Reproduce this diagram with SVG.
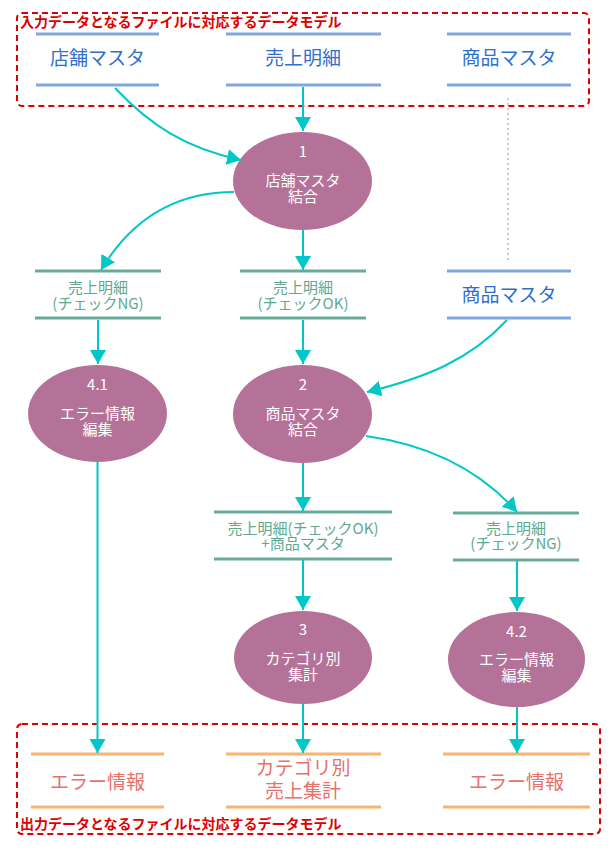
<svg xmlns="http://www.w3.org/2000/svg" width="612" height="850" viewBox="0 0 612 850">
  <style>
    text { font-family: "Noto Sans CJK JP", "Noto Sans", sans-serif; text-anchor: middle; }
    .frame { fill: none; stroke: #dd0000; stroke-width: 2; stroke-dasharray: 6 4; }
    .frame-label { fill: #dd0000; font-size: 14px; font-weight: bold; text-anchor: start; }
    .in-line { stroke: #80a8e0; stroke-width: 3; }
    .in-text { fill: #2f6fcc; font-size: 19px; }
    .mid-line { stroke: #69ab9b; stroke-width: 3; }
    .mid-text { fill: #5ea890; font-size: 15px; }
    .out-line { stroke: #f8b470; stroke-width: 3; }
    .out-text { fill: #e8706a; font-size: 19px; }
    .proc { fill: #b57299; }
    .proc-text { fill: #ffffff; font-size: 15px; }
    .flow { fill: none; stroke: #00c8c8; stroke-width: 2; marker-end: url(#arrow); }
    .ref { stroke: #8899bb; stroke-width: 1; stroke-dasharray: 2 3; }
  </style>
  <defs>
    <marker id="arrow" markerUnits="userSpaceOnUse" markerWidth="14" markerHeight="16" refX="14" refY="8" orient="auto">
      <path d="M0,0 L14,8 L0,16 Z" fill="#00c8c8"/>
    </marker>
  </defs>

  <rect width="612" height="850" fill="#ffffff"/>

  <!-- input / output frames -->
  <g id="input-frame">
    <rect class="frame" x="17" y="13" width="572" height="93" rx="5"/>
    <text class="frame-label" x="20" y="27">入力データとなるファイルに対応するデータモデル</text>
  </g>
  <g id="output-frame">
    <rect class="frame" x="17" y="724" width="583" height="110" rx="5"/>
    <text class="frame-label" x="20" y="829">出力データとなるファイルに対応するデータモデル</text>
  </g>

  <!-- input stores -->
  <g id="store-tenpo">
    <line class="in-line" x1="36" y1="34" x2="159" y2="34"/>
    <line class="in-line" x1="36" y1="85" x2="159" y2="85"/>
    <text class="in-text" x="97.5" y="65">店舗マスタ</text>
  </g>
  <g id="store-uriage">
    <line class="in-line" x1="226" y1="34" x2="381" y2="34"/>
    <line class="in-line" x1="226" y1="85" x2="381" y2="85"/>
    <text class="in-text" x="303" y="65">売上明細</text>
  </g>
  <g id="store-shohin">
    <line class="in-line" x1="447" y1="34" x2="571" y2="34"/>
    <line class="in-line" x1="447" y1="85" x2="571" y2="85"/>
    <text class="in-text" x="509" y="65">商品マスタ</text>
  </g>
  <g id="store-shohin-copy">
    <line class="in-line" x1="447" y1="271" x2="571" y2="271"/>
    <line class="in-line" x1="447" y1="318" x2="571" y2="318"/>
    <text class="in-text" x="509" y="302">商品マスタ</text>
  </g>

  <!-- intermediate stores -->
  <g id="store-ng-1">
    <line class="mid-line" x1="35" y1="271" x2="161" y2="271"/>
    <line class="mid-line" x1="35" y1="318" x2="161" y2="318"/>
    <text class="mid-text"><tspan x="98" y="293">売上明細</tspan><tspan x="98" y="309">(チェックNG)</tspan></text>
  </g>
  <g id="store-ok-1">
    <line class="mid-line" x1="240" y1="271" x2="366" y2="271"/>
    <line class="mid-line" x1="240" y1="318" x2="366" y2="318"/>
    <text class="mid-text"><tspan x="303" y="293">売上明細</tspan><tspan x="303" y="309">(チェックOK)</tspan></text>
  </g>
  <g id="store-ok-2">
    <line class="mid-line" x1="214" y1="512" x2="392" y2="512"/>
    <line class="mid-line" x1="214" y1="559" x2="392" y2="559"/>
    <text class="mid-text"><tspan x="303" y="534">売上明細(チェックOK)</tspan><tspan x="303" y="549">+商品マスタ</tspan></text>
  </g>
  <g id="store-ng-2">
    <line class="mid-line" x1="453" y1="513" x2="579" y2="513"/>
    <line class="mid-line" x1="453" y1="560" x2="579" y2="560"/>
    <text class="mid-text"><tspan x="516" y="534">売上明細</tspan><tspan x="516" y="549">(チェックNG)</tspan></text>
  </g>

  <!-- processes -->
  <g id="proc-1">
    <ellipse class="proc" cx="302.5" cy="181" rx="69.5" ry="49"/>
    <text class="proc-text"><tspan x="303" y="157">1</tspan><tspan x="303" y="186">店舗マスタ</tspan><tspan x="303" y="202">結合</tspan></text>
  </g>
  <g id="proc-2">
    <ellipse class="proc" cx="302.5" cy="414" rx="69.5" ry="49"/>
    <text class="proc-text"><tspan x="303" y="390">2</tspan><tspan x="303" y="419">商品マスタ</tspan><tspan x="303" y="435">結合</tspan></text>
  </g>
  <g id="proc-4-1">
    <ellipse class="proc" cx="97.5" cy="413.5" rx="69.5" ry="48.5"/>
    <text class="proc-text"><tspan x="97.5" y="390">4.1</tspan><tspan x="97.5" y="419">エラー情報</tspan><tspan x="97.5" y="435">編集</tspan></text>
  </g>
  <g id="proc-3">
    <ellipse class="proc" cx="303" cy="657.5" rx="69" ry="46.5"/>
    <text class="proc-text"><tspan x="303" y="635">3</tspan><tspan x="303" y="664">カテゴリ別</tspan><tspan x="303" y="680">集計</tspan></text>
  </g>
  <g id="proc-4-2">
    <ellipse class="proc" cx="516.5" cy="659.5" rx="68.5" ry="47.5"/>
    <text class="proc-text"><tspan x="516.5" y="637">4.2</tspan><tspan x="516.5" y="665">エラー情報</tspan><tspan x="516.5" y="681">編集</tspan></text>
  </g>

  <!-- output stores -->
  <g id="out-error-1">
    <line class="out-line" x1="31" y1="754" x2="164" y2="754"/>
    <line class="out-line" x1="31" y1="807" x2="164" y2="807"/>
    <text class="out-text" x="97.5" y="789">エラー情報</text>
  </g>
  <g id="out-category">
    <line class="out-line" x1="226" y1="754" x2="381" y2="754"/>
    <line class="out-line" x1="226" y1="807" x2="381" y2="807"/>
    <text class="out-text"><tspan x="303" y="775">カテゴリ別</tspan><tspan x="303" y="798">売上集計</tspan></text>
  </g>
  <g id="out-error-2">
    <line class="out-line" x1="443" y1="754" x2="590" y2="754"/>
    <line class="out-line" x1="443" y1="807" x2="590" y2="807"/>
    <text class="out-text" x="516.5" y="789">エラー情報</text>
  </g>

  <!-- connectors -->
  <g id="connectors">
    <line class="ref" x1="508" y1="98" x2="508" y2="260"/>
    <path class="flow" d="M115,88 C150,125 185,148 241,160"/>
    <path class="flow" d="M303,87 L303,131"/>
    <path class="flow" d="M234,192 C170,192 128,225 101,270"/>
    <path class="flow" d="M303,230 L303,270"/>
    <path class="flow" d="M98,320 L98,364"/>
    <path class="flow" d="M303,320 L303,364"/>
    <path class="flow" d="M507,320 C470,360 425,378 367,392"/>
    <path class="flow" d="M366,436 C430,445 480,470 517,512"/>
    <path class="flow" d="M303,463 L303,511"/>
    <path class="flow" d="M517,561 L517,611"/>
    <path class="flow" d="M303,560 L303,610"/>
    <path class="flow" d="M97.5,462 L97.5,753"/>
    <path class="flow" d="M303,704 L303,753"/>
    <path class="flow" d="M517,707 L517,753"/>
  </g>
</svg>
